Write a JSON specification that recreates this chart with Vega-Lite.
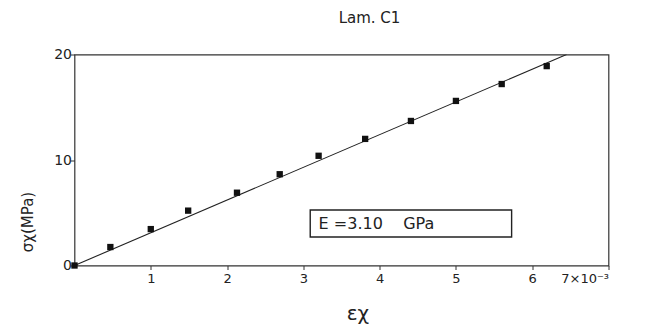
{
  "$schema": "https://vega.github.io/schema/vega-lite/v6.json",
  "autosize": "none",
  "width": 534,
  "height": 211,
  "padding": {"left": 74.5, "top": 54.5, "right": 56, "bottom": 68},
  "background": "white",
  "config": {
    "view": {"stroke": "#333", "strokeWidth": 1.2},
    "font": "DejaVu Sans"
  },
  "title": {
    "text": "Lam. C1",
    "anchor": "middle",
    "fontSize": 15,
    "fontWeight": "normal",
    "font": "DejaVu Sans",
    "color": "#222",
    "offset": 22,
    "dx": 28
  },
  "datasets": {
    "pts": [
      {"strain": 0, "stress": 0},
      {"strain": 0.47, "stress": 1.75},
      {"strain": 1.0, "stress": 3.45},
      {"strain": 1.49, "stress": 5.2},
      {"strain": 2.13, "stress": 6.9},
      {"strain": 2.69, "stress": 8.65},
      {"strain": 3.2, "stress": 10.4},
      {"strain": 3.81, "stress": 12.0},
      {"strain": 4.41, "stress": 13.7},
      {"strain": 5.0, "stress": 15.6},
      {"strain": 5.6, "stress": 17.2},
      {"strain": 6.19, "stress": 18.9}
    ],
    "fit": [
      {"strain": 0, "stress": 0},
      {"strain": 6.45, "stress": 20}
    ],
    "box": [
      {"x1": 3.09, "x2": 5.73, "y1": 2.7, "y2": 5.26, "tx": 3.2, "ty": 3.98, "label": "E\u00a0=3.10\u00a0\u00a0\u00a0\u00a0GPa"}
    ]
  },
  "layer": [
    {
      "data": {"name": "fit"},
      "mark": {"type": "line", "color": "#222", "strokeWidth": 1.1, "clip": true},
      "encoding": {
        "x": {
          "field": "strain", "type": "quantitative",
          "scale": {"domain": [0, 7], "nice": false},
          "axis": {
            "values": [1, 2, 3, 4, 5, 6, 7],
            "format": "d",
            "labelExpr": "datum.value == 7 ? '\u00a0\u00a0\u00a07×10⁻³' : datum.label",
            "grid": false, "domain": false,
            "tickColor": "#333", "tickSize": 4, "tickOffset": 0,
            "labelFontSize": 13, "labelColor": "#222", "labelPadding": 3,
            "title": "εχ", "titleFontSize": 20, "titleFontWeight": "normal",
            "titleColor": "#222", "titlePadding": 18, "titleX": 283
          }
        },
        "y": {
          "field": "stress", "type": "quantitative",
          "scale": {"domain": [0, 20], "nice": false},
          "axis": {
            "values": [0, 10, 20],
            "grid": false, "domain": false,
            "tickColor": "#333", "tickSize": 4,
            "labelFontSize": 14, "labelColor": "#222", "labelPadding": -1,
            "title": "σχ(MPa)", "titleFontSize": 15, "titleFontWeight": "normal",
            "titleColor": "#222", "titleY": 167, "titlePadding": 18
          }
        }
      }
    },
    {
      "data": {"name": "pts"},
      "mark": {"type": "point", "shape": "square", "filled": true, "color": "#111", "size": 40, "opacity": 1},
      "encoding": {
        "x": {"field": "strain", "type": "quantitative"},
        "y": {"field": "stress", "type": "quantitative"}
      }
    },
    {
      "data": {"name": "box"},
      "mark": {"type": "rect", "fill": "white", "stroke": "#222", "strokeWidth": 1.4},
      "encoding": {
        "x": {"field": "x1", "type": "quantitative"},
        "x2": {"field": "x2"},
        "y": {"field": "y1", "type": "quantitative"},
        "y2": {"field": "y2"}
      }
    },
    {
      "data": {"name": "box"},
      "mark": {"type": "text", "align": "left", "baseline": "middle", "fontSize": 16, "color": "#222"},
      "encoding": {
        "x": {"field": "tx", "type": "quantitative"},
        "y": {"field": "ty", "type": "quantitative"},
        "text": {"field": "label"}
      }
    }
  ]
}
